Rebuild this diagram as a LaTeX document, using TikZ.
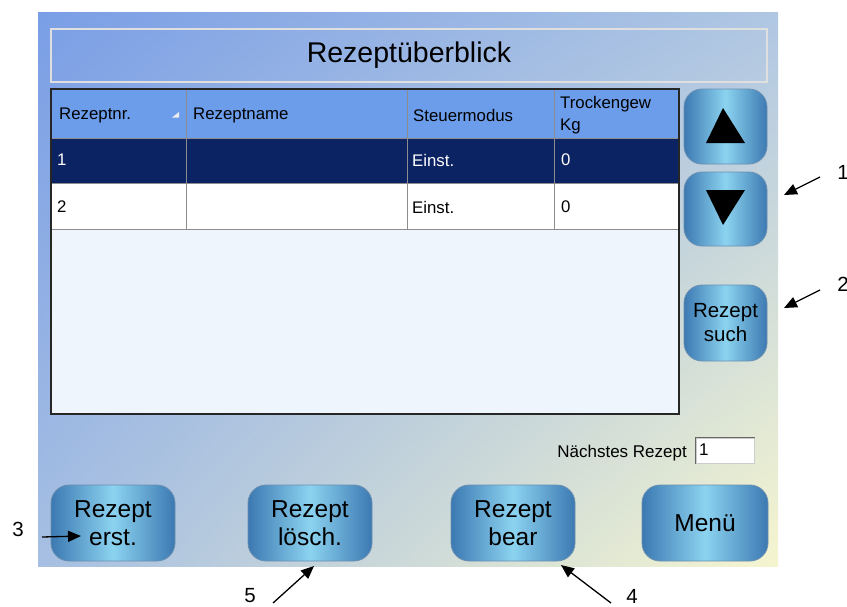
\documentclass[tikz,border=0pt]{standalone}
\usepackage{fontspec}
\setmainfont{Liberation Sans}
\usetikzlibrary{arrows.meta,shadings}
\definecolor{bgUL}{HTML}{7A9EE6}
\definecolor{bgUR}{HTML}{B0C7E3}
\definecolor{bgLL}{HTML}{A6BFE2}
\definecolor{bgLR}{HTML}{F5F5CF}
\definecolor{hdr}{HTML}{6B9DEB}
\definecolor{selrow}{HTML}{0B2263}
\definecolor{emptyarea}{HTML}{EEF5FD}
\definecolor{btnD}{HTML}{3C79B2}
\definecolor{btnL}{HTML}{8CD3F0}
\definecolor{btnE}{HTML}{6A8FB0}
\definecolor{gridc}{HTML}{8C8C8C}
\tikzset{
  btn/.style={rounded corners=18pt, left color=btnD, right color=btnD, middle color=btnL,
    draw=btnE, line width=0.8pt, inner sep=0pt, align=center,
    font=\fontsize{24.5}{28}\selectfont},
  cell/.style={anchor=west, inner sep=0pt, font=\fontsize{16.8}{20}\selectfont},
  anno/.style={inner sep=0pt, font=\fontsize{20.5}{24}\selectfont},
  annarrow/.style={line width=1.3pt, -{Triangle[length=13pt,width=11pt]}},
}
\begin{document}
\begin{tikzpicture}[x=1pt,y=-1pt]
\useasboundingbox (0,0) rectangle (847,606);
\fill[white] (0,0) rectangle (847,606);
% panel background
\shade[upper left=bgUL, upper right=bgUR, lower left=bgLL, lower right=bgLR] (38,12) rectangle (778,566);
% title
\node[draw=white!75!gray, line width=1.5pt, minimum width=716pt, minimum height=53pt, inner sep=0pt,
      font=\fontsize{28.5}{32}\selectfont] (title) at (409,55.5) {Rezeptüberblick};
% table fills
\fill[hdr] (51,89) rectangle (679,138);
\fill[selrow] (51,138) rectangle (679,183);
\fill[white] (51,183) rectangle (679,229);
\fill[emptyarea] (51,229) rectangle (679,414);
% grid
\draw[gridc, line width=1pt] (186,89) -- (186,229) (407,89) -- (407,229) (554,89) -- (554,229);
\draw[gridc, line width=1pt] (51,138) -- (679,138) (51,183) -- (679,183) (51,229) -- (679,229);
\draw[black!85, line width=1.3pt] (51,89) rectangle (679,414);
% sort marker
\fill[white!85!gray] (172,117.5) -- (179,117.5) -- (179,112) -- cycle;
% header text
\node[cell] (h1) at (59,115) {Rezeptnr.};
\node[cell] (h2) at (193,115) {Rezeptname};
\node[cell] (h3) at (413,115) {Steuermodus};
\node[cell, align=left, font=\fontsize{16.8}{22}\selectfont] (h4) at (560,115) {Trockengew\\Kg};
% row 1
\node[cell, text=white] (r1a) at (57,160) {1};
\node[cell, text=white] (r1c) at (412,160) {Einst.};
\node[cell, text=white] (r1d) at (561,160) {0};
% row 2
\node[cell] (r2a) at (57,207) {2};
\node[cell] (r2c) at (412,207) {Einst.};
\node[cell] (r2d) at (561,207) {0};
% right buttons
\node[btn, minimum width=83pt, minimum height=75pt] (up) at (725.5,126.5) {};
\fill[black] (723,108) -- (706,143) -- (745,143) -- cycle;
\node[btn, minimum width=83pt, minimum height=74pt] (down) at (725.5,209) {};
\fill[black] (706,190) -- (745,190) -- (723,225) -- cycle;
\node[btn, minimum width=83pt, minimum height=76pt, font=\fontsize{20.5}{24}\selectfont] (such) at (725.5,323) {Rezept\\such};
% next recipe
\node[inner sep=0pt, anchor=east, font=\fontsize{17}{20}\selectfont] (nextlbl) at (687,453) {Nächstes Rezept};
\node[fill=white, draw=gray!40, line width=1pt, minimum width=58pt, minimum height=25pt, inner sep=0pt] (nextbox) at (725,450.5) {};
\draw[gray!80!black, line width=1.3pt] (nextbox.south west) -- (nextbox.north west) -- (nextbox.north east);
\node[cell, font=\fontsize{17}{20}\selectfont] (nextval) at (699,450) {1};
% bottom buttons
\node[btn, minimum width=124pt, minimum height=76pt] (erst) at (113,523) {Rezept\\erst.};
\node[btn, minimum width=124pt, minimum height=76pt] (loesch) at (310,523) {Rezept\\lösch.};
\node[btn, minimum width=124pt, minimum height=76pt] (bear) at (513,523) {Rezept\\bear};
\node[btn, minimum width=126pt, minimum height=76pt] (menu) at (705,523) {Menü};
% annotations
\node[anno] (n1) at (843,172) {1};
\coordinate (a1s) at (820,177); \coordinate (a1e) at (784,195);
\draw[annarrow] (a1s) -- (a1e);
\node[anno] (n2) at (843,284) {2};
\coordinate (a2s) at (820,290); \coordinate (a2e) at (784,308);
\draw[annarrow] (a2s) -- (a2e);
\node[anno] (n3) at (18,529) {3};
\coordinate (a3s) at (42,537); \coordinate (a3e) at (81,536);
\draw[annarrow] (a3s) -- (a3e);
\node[anno] (n5) at (250,596) {5};
\coordinate (a5s) at (273,603); \coordinate (a5e) at (314,566);
\draw[annarrow] (a5s) -- (a5e);
\node[anno] (n4) at (632,596) {4};
\coordinate (a4s) at (611,603); \coordinate (a4e) at (561,565);
\draw[annarrow] (a4s) -- (a4e);
\end{tikzpicture}
\end{document}
